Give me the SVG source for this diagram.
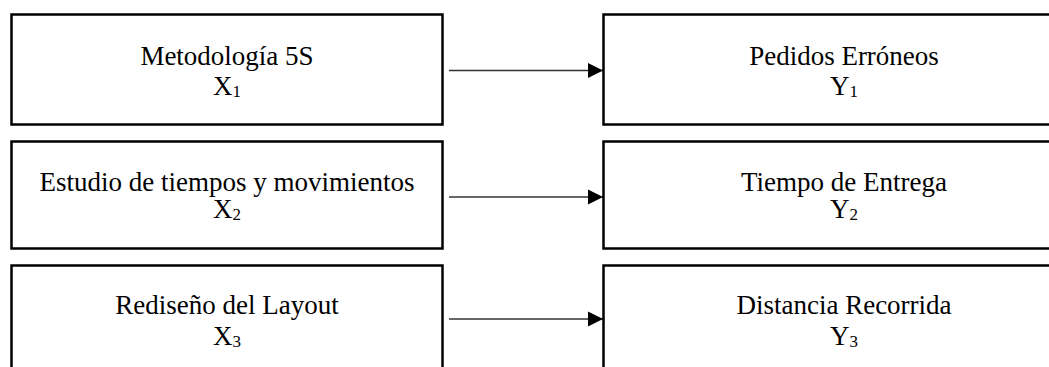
<svg xmlns="http://www.w3.org/2000/svg" width="1049" height="367" viewBox="0 0 1049 367">
<style>
.box{fill:#fff;stroke:#000;stroke-width:2.5}
.t{font-family:"Liberation Serif","Times New Roman",serif;font-size:27px;fill:#000;text-anchor:middle}
.s{font-size:17px}
.c{stroke:#333;stroke-width:1.6;fill:none}
</style>
<defs>
<marker id="ah" markerUnits="userSpaceOnUse" markerWidth="16" markerHeight="16" refX="15" refY="8" orient="auto">
<path d="M0,0.5 L15,8 L0,15.5 Z" fill="#000"/>
</marker>
</defs>
<rect width="1049" height="367" fill="#fff"/>
<g id="connectors">
<line class="c" x1="449" y1="70.5" x2="603" y2="70.5" marker-end="url(#ah)"/>
<line class="c" x1="449" y1="197" x2="603" y2="197" marker-end="url(#ah)"/>
<line class="c" x1="449" y1="319" x2="603" y2="319" marker-end="url(#ah)"/>
</g>
<g id="x1">
<rect class="box" x="11.5" y="14.5" width="431" height="110"/>
<text class="t" x="227" y="65">Metodología 5S</text>
<text class="t" x="227" y="95">X<tspan class="s" dy="2">1</tspan></text>
</g>
<g id="x2">
<rect class="box" x="11.5" y="141.5" width="431" height="107"/>
<text class="t" x="227" y="190.5">Estudio de tiempos y movimientos</text>
<text class="t" x="227" y="218">X<tspan class="s" dy="2">2</tspan></text>
</g>
<g id="x3">
<rect class="box" x="11.5" y="265.5" width="431" height="120"/>
<text class="t" x="227" y="314">Rediseño del Layout</text>
<text class="t" x="227" y="345">X<tspan class="s" dy="2">3</tspan></text>
</g>
<g id="y1">
<rect class="box" x="603.5" y="14.5" width="481" height="110"/>
<text class="t" x="844" y="65">Pedidos Erróneos</text>
<text class="t" x="844" y="95">Y<tspan class="s" dy="2">1</tspan></text>
</g>
<g id="y2">
<rect class="box" x="603.5" y="141.5" width="481" height="107"/>
<text class="t" x="844" y="190.5">Tiempo de Entrega</text>
<text class="t" x="844" y="218">Y<tspan class="s" dy="2">2</tspan></text>
</g>
<g id="y3">
<rect class="box" x="603.5" y="265.5" width="481" height="120"/>
<text class="t" x="844" y="314">Distancia Recorrida</text>
<text class="t" x="844" y="345">Y<tspan class="s" dy="2">3</tspan></text>
</g>
</svg>
